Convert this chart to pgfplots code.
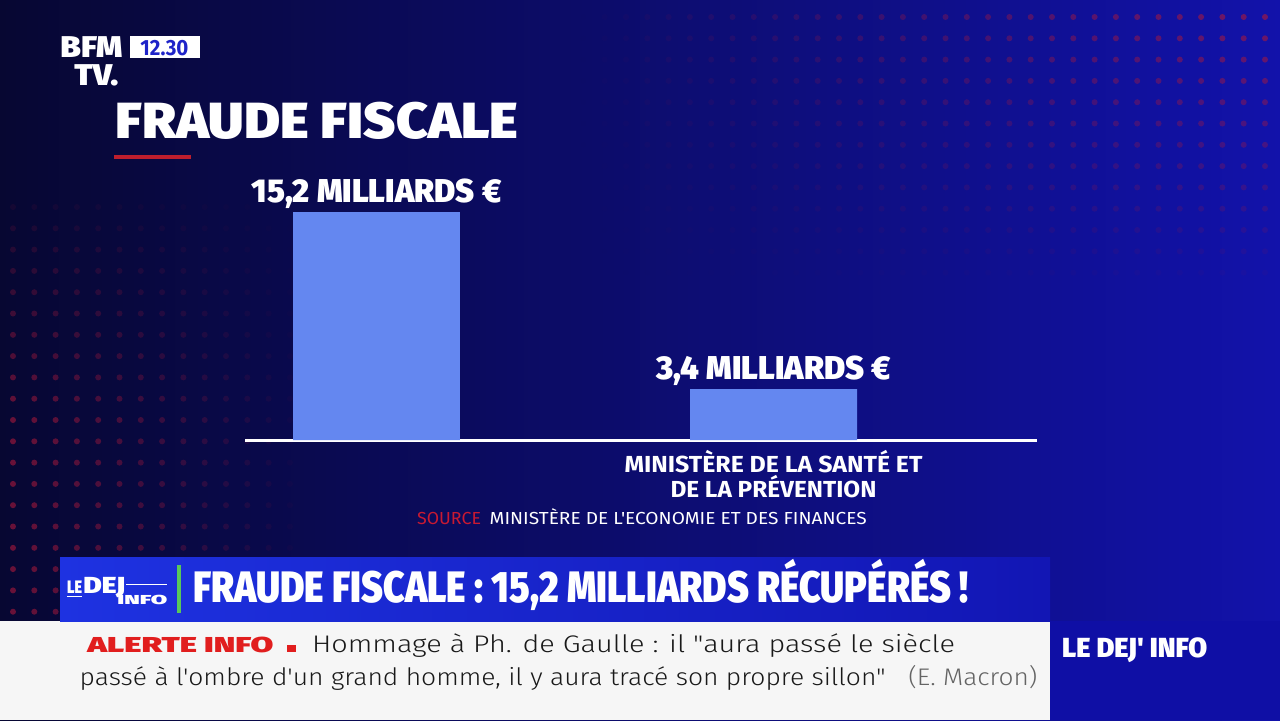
\documentclass[border=0pt]{standalone}
\usepackage{fontspec}
\usepackage{graphicx}
\usepackage{pgfplots}
\pgfplotsset{compat=1.18}
\setmainfont{Fira Sans}[Ligatures=TeXOff]
\IfFontExistsTF{Fira Sans Black}
  {\newfontfamily\heavyfam{Fira Sans Black}[Ligatures=TeXOff]\newcommand\heavy{\heavyfam}}
  {\newfontfamily\heavyfam{Fira Sans}[Ligatures=TeXOff,BoldFeatures={FakeBold=1.5}]\newcommand\heavy{\heavyfam\bfseries}}
\IfFontExistsTF{Fira Sans Light}
  {\newfontfamily\lightfam{Fira Sans Light}[Ligatures=TeXOff]}
  {\newfontfamily\lightfam{Fira Sans}[Ligatures=TeXOff]}
\newfontfamily\boldfam{Fira Sans}[Ligatures=TeXOff]
\newcommand\bold{\boldfam\bfseries}
\newcommand\fs[1]{\fontsize{#1}{#1}\selectfont}
\newcommand\fw[2]{\resizebox{#1}{\height}{#2}}
\definecolor{bgL}{RGB}{7,7,50}
\definecolor{bgM}{RGB}{12,12,100}
\definecolor{bgR}{RGB}{18,18,170}
\definecolor{barc}{RGB}{100,135,240}
\definecolor{redline}{RGB}{190,30,45}
\definecolor{dotc}{RGB}{170,25,60}
\definecolor{bannerL}{RGB}{30,50,225}
\definecolor{bannerR}{RGB}{18,22,180}
\definecolor{boxc}{RGB}{15,15,165}
\definecolor{alert}{RGB}{225,30,30}
\definecolor{tickc}{RGB}{25,25,25}
\definecolor{grayt}{RGB}{100,100,100}
\definecolor{logoblue}{RGB}{30,35,200}
\definecolor{greenbar}{RGB}{90,200,90}
\definecolor{srcred}{RGB}{200,25,50}
\definecolor{bandc}{RGB}{246,246,246}
\newlength\tmpw
\settowidth\tmpw{\heavy\fs{16.5}15,2 MILLIARDS €}
\pgfmathsetmacro\labsx{125pt/\tmpw}
\begin{document}
\begin{tikzpicture}[x=0.5pt,y=-0.5pt]
% background
\shade[left color=bgL, middle color=bgM, right color=bgR] (0,0) rectangle (1280,720);
% dot patterns
\foreach \i in {0,...,14}{
  \foreach \j in {0,...,20}{
    \pgfmathsetmacro\op{max(0,min(1,0.15+\j/12)*(1-\i/14))*0.6}
    \fill[dotc, opacity=\op] ({13+21.3*\i},{207+21.3*\j}) circle (3);
  }
}
\foreach \k in {0,...,34}{
  \foreach \j in {0,...,13}{
    \pgfmathsetmacro\op{max(0,1-\j/13)*max(0,1.15-\k/28)*0.55}
    \fill[dotc, opacity=\op] ({1265-21.3*\k},{17+21.3*\j}) circle (3);
  }
}
% bottom bands
\fill[bandc] (0,621) rectangle (1050,720);
\shade[left color=bannerL, right color=bannerR] (60,557) rectangle (1050,621);
\fill[boxc] (1050,621) rectangle (1280,720);
% logo BFM
\node[anchor=base west, inner sep=0, text=white] at (60,57) {\fw{31pt}{\heavy\fs{15}BFM}};
\node[anchor=base west, inner sep=0, text=white] at (74,85) {\fw{22pt}{\heavy\fs{15}TV.}};
\fill[white] (130,35.7) rectangle (200,58.3);
\node[anchor=base west, inner sep=0, text=logoblue] at (140,55) {\fw{24pt}{\bold\fs{11}12.30}};
% title
\node[anchor=base west, inner sep=0, text=white] at (115,138) {\fw{201.5pt}{\heavy\fs{25.4}FRAUDE FISCALE}};
\fill[redline] (114,154.7) rectangle (191,159);
% source
\node[anchor=base west, inner sep=0, text=srcred] at (416.7,524.3) {\fw{32pt}{\fs{8.7}SOURCE}};
\node[anchor=base west, inner sep=0, text=white] at (489.3,524.3) {\fw{188.5pt}{\fs{8.7}MINISTÈRE DE L'ECONOMIE ET DES FINANCES}};
% banner
\node[anchor=base west, inner sep=0, text=white] at (66.7,593) {\fw{7.5pt}{\heavy\fs{9}LE}};
\node[anchor=base west, inner sep=0, text=white] at (83,593) {\fw{21pt}{\heavy\fs{11.6}DEJ}};
\node[anchor=base west, inner sep=0, text=white] at (117,604) {\fw{25pt}{\heavy\fs{6.5}INFO}};
\draw[white, line width=0.5pt] (67,596) -- (82,596);
\draw[white, line width=0.5pt] (126,584) -- (167,584);
\fill[greenbar] (177,565) rectangle (181,613);
\node[anchor=base west, inner sep=0, text=white] at (192.7,602) {\fw{387.6pt}{\heavy\fs{22}FRAUDE FISCALE : 15,2 MILLIARDS RÉCUPÉRÉS !}};
% ticker
\node[anchor=base west, inner sep=0, text=alert] at (87,652.3) {\fw{93pt}{\heavy\fs{10.8}ALERTE INFO}};
\fill[alert] (286.7,645) rectangle (296,652);
\node[anchor=base west, inner sep=0, text=tickc] at (311.7,652.3) {\fw{321.5pt}{\lightfam\fs{12}Hommage à Ph. de Gaulle : il "aura passé le siècle}};
\node[anchor=base west, inner sep=0, text=tickc] at (79.3,685.7) {\fw{403pt}{\lightfam\fs{12}passé à l'ombre d'un grand homme, il y aura tracé son propre sillon"}};
\node[anchor=base west, inner sep=0, text=grayt] at (908,685.7) {\fw{64.5pt}{\lightfam\fs{12}(E. Macron)}};
\node[anchor=base west, inner sep=0, text=white] at (1061.7,657.3) {\fw{72.5pt}{\heavy\fs{13.8}LE DEJ' INFO}};
% chart
\begin{axis}[
  at={(122.5pt,-220pt)}, anchor=south west,
  scale only axis, width=396pt, height=114pt,
  xmin=-0.3312, xmax=1.6637, ymin=0, ymax=15.2,
  axis y line=none, axis x line=bottom,
  x axis line style={-, draw=white, line width=1.5pt},
  xtick={1},
  xticklabels={{\fw{149pt}{\bold\fs{11.6}MINISTÈRE DE LA SANTÉ ET}\\\fw{103pt}{\bold\fs{11.6}DE LA PRÉVENTION}}},
  major tick length=0pt,
  xticklabel style={text=white, align=center, inner sep=0pt, anchor=north, yshift=-5pt, font=\bold\fontsize{11.6}{12.5}\selectfont},
  ytick=\empty,
  clip=false,
  ybar, bar width=0.4206,
  point meta=explicit symbolic,
  nodes near coords={\scalebox{\labsx}[1]{\heavy\fs{16.5}\pgfplotspointmeta}},
  every node near coord/.append style={anchor=base, yshift=5pt, inner sep=0pt, text=white},
]
\addplot[fill=barc, draw=none, bar shift=0pt] coordinates {(0,15.2) [15,2 MILLIARDS €] (1,3.4) [3,4 MILLIARDS €]};
\end{axis}
\end{tikzpicture}
\end{document}
